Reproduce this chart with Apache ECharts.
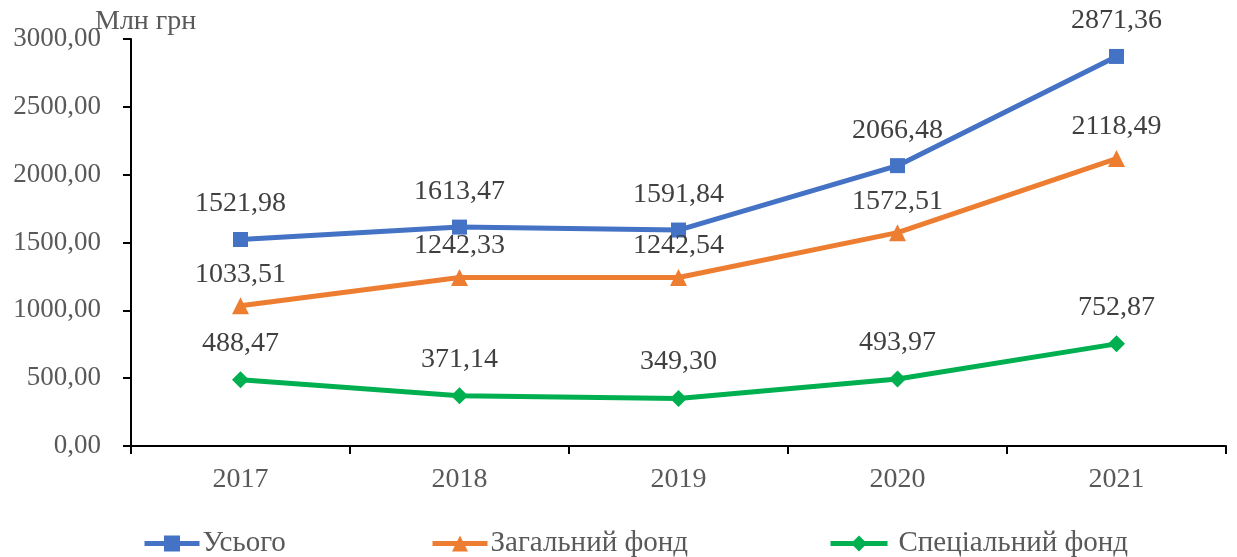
<!DOCTYPE html>
<html>
<head>
<meta charset="UTF-8">
<title>Chart</title>
<script src="https://cdn.jsdelivr.net/npm/echarts@6/dist/echarts.min.js"></script>
<style>
	html, body { margin: 0; padding: 0; background: #fff; }
	#chart { width: 1237px; height: 557px; }
</style>
</head>
<body>
<div id="chart"></div>
<script type="text/javascript">
	// data
	var years = ['2017', '2018', '2019', '2020', '2021'];
	var total = [1521.98, 1613.47, 1591.84, 2066.48, 2871.36];
	var general = [1033.51, 1242.33, 1242.54, 1572.51, 2118.49];
	var special = [488.47, 371.14, 349.30, 493.97, 752.87];
	var seriesNames = ['Усього', 'Загальний фонд', 'Спеціальний фонд'];

	var font = '"Liberation Serif", "Times New Roman", serif';

	function fmt(v) {
		return Number(v).toFixed(2).replace('.', ',');
	}

	function lineSeries(name, data, color, symbol, size, dist) {
		return {
			name: name,
			type: 'line',
			data: data,
			symbol: symbol,
			symbolSize: size,
			lineStyle: { color: color, width: 5 },
			itemStyle: { color: color },
			label: {
				show: true,
				position: 'top',
				distance: dist,
				color: '#404040',
				fontFamily: font,
				fontSize: 28,
				formatter: function (p) { return fmt(p.value); }
			}
		};
	}

	function legendItem(name, left, w, gap) {
		return {
			data: [name],
			left: left,
			top: 529,
			padding: 0,
			itemWidth: w,
			itemHeight: 20,
			itemGap: 0,
			lineStyle: { width: 5 },
			textStyle: { color: '#595959', fontFamily: font, fontSize: 29, padding: [0, 0, 0, gap] }
		};
	}

	var chart = echarts.init(document.getElementById('chart'));
	chart.setOption({
		animation: false,
		title: {
			text: 'Млн грн',
			left: 90,
			top: 3,
			textStyle: { color: '#595959', fontFamily: font, fontSize: 28, fontWeight: 'normal' }
		},
		legend: [
			legendItem(seriesNames[0], 142, 55, -2),
			legendItem(seriesNames[1], 430, 55, -2),
			legendItem(seriesNames[2], 828, 57, 6)
		],
		grid: { left: 131, right: 11, top: 39, bottom: 111, containLabel: false },
		xAxis: {
			type: 'category',
			data: years,
			boundaryGap: true,
			axisLine: { lineStyle: { color: '#000', width: 2 } },
			axisTick: { show: true, length: 8, lineStyle: { color: '#000', width: 2 } },
			axisLabel: { color: '#595959', fontFamily: font, fontSize: 28, margin: 20 }
		},
		yAxis: {
			type: 'value',
			min: 0,
			max: 3000,
			interval: 500,
			axisLine: { show: true, lineStyle: { color: '#000', width: 2 } },
			axisTick: { show: true, length: 8, lineStyle: { color: '#000', width: 2 } },
			splitLine: { show: false },
			axisLabel: {
				color: '#595959',
				fontFamily: font,
				fontSize: 27,
				margin: 30,
				formatter: fmt
			}
		},
		series: [
			lineSeries(seriesNames[0], total, '#4472C4', 'rect', 15, 14),
			lineSeries(seriesNames[1], general, '#ED7D31', 'triangle', 17, 9),
			lineSeries(seriesNames[2], special, '#00B050', 'diamond', 17, 14)
		]
	});
</script>
</body>
</html>
